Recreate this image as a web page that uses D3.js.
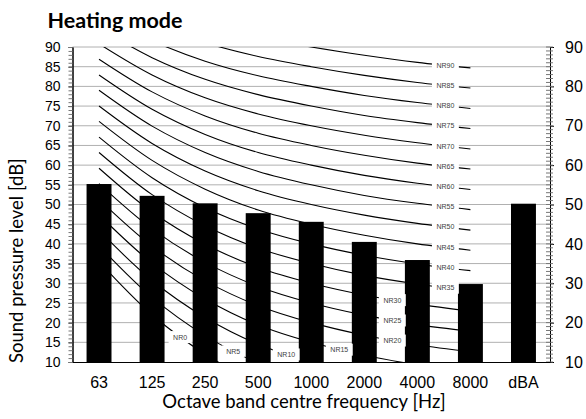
<!DOCTYPE html>
<html>
<head>
<meta charset="utf-8">
<script src="https://cdn.jsdelivr.net/npm/d3@7"></script>
<style>
  body { margin: 0; background: #fff; }
  svg { display: block; }
</style>
</head>
<body>
<div id="chart"></div>
<script>
"use strict"

let svgWidth = 586
let svgHeight = 419

let leftEdge = 72.5
let rightEdge = 550
let topEdge = 47
let bottomEdge = 362

// octave bands on the x axis
let categories = ["63", "125", "250", "500", "1000", "2000", "4000", "8000", "dBA"]

// measured sound pressure level for each band (dB)
let levels = [55.2, 52.2, 50.3, 47.8, 45.6, 40.5, 35.9, 29.8, 50.2]

// NR curve names and their levels at 63 ... 8000 Hz
let nrNames = [0, 5, 10, 15, 20, 25, 30, 35, 40, 45, 50, 55, 60, 65, 70, 75, 80, 85, 90]
let nrLevels = [
    [35.5, 22.0, 12.0, 4.8, 0.0, -3.5, -6.1, -8.0],
    [39.5, 26.4, 16.7, 9.7, 5.0, 1.6, -1.0, -2.9],
    [43.4, 30.7, 21.3, 14.5, 10.0, 6.7, 4.2, 2.3],
    [47.4, 35.1, 26.0, 19.4, 15.0, 11.7, 9.3, 7.5],
    [51.3, 39.4, 30.6, 24.3, 20.0, 16.8, 14.4, 12.6],
    [55.3, 43.8, 35.3, 29.2, 25.0, 21.9, 19.5, 17.8],
    [59.2, 48.1, 39.9, 34.0, 30.0, 27.0, 24.7, 22.9],
    [63.2, 52.5, 44.6, 38.9, 35.0, 32.0, 29.8, 28.1],
    [67.1, 56.8, 49.2, 43.8, 40.0, 37.1, 34.9, 33.2],
    [71.1, 61.2, 53.9, 48.6, 45.0, 42.2, 40.0, 38.4],
    [75.0, 65.5, 58.5, 53.5, 50.0, 47.3, 45.2, 43.5],
    [79.0, 69.9, 63.2, 58.4, 55.0, 52.3, 50.3, 48.7],
    [82.9, 74.2, 67.8, 63.2, 60.0, 57.4, 55.4, 53.8],
    [86.9, 78.6, 72.5, 68.1, 65.0, 62.5, 60.5, 59.0],
    [90.8, 82.9, 77.1, 73.0, 70.0, 67.6, 65.7, 64.1],
    [94.8, 87.3, 81.8, 77.9, 75.0, 72.6, 70.8, 69.3],
    [98.7, 91.6, 86.4, 82.7, 80.0, 77.7, 75.9, 74.4],
    [102.7, 96.0, 91.1, 87.6, 85.0, 82.8, 81.0, 79.6],
    [106.6, 100.3, 95.7, 92.5, 90.0, 87.9, 86.1, 84.7]
]

let svg = d3.select("#chart")
    .append("svg")
    .attr("width", svgWidth)
    .attr("height", svgHeight)

let xScale = d3.scaleBand()
    .domain(categories)
    .range([leftEdge, rightEdge])

let yScale = d3.scaleLinear()
    .domain([10, 90])
    .range([bottomEdge, topEdge])

function xMid(cat) {
    return xScale(cat) + xScale.bandwidth() / 2
}

svg.append("defs").append("clipPath")
    .attr("id", "plotClip")
    .append("rect")
    .attr("x", leftEdge)
    .attr("y", topEdge)
    .attr("width", rightEdge - leftEdge)
    .attr("height", bottomEdge - topEdge)

/* gridlines */
svg.selectAll("line.grid")
    .data(d3.range(15, 91, 5))
    .join("line")
    .classed("grid", true)
    .attr("x1", leftEdge)
    .attr("x2", rightEdge)
    .attr("y1", d => yScale(d))
    .attr("y2", d => yScale(d))
    .attr("stroke", "#b0b0b0")
    .attr("stroke-width", 1)

/* bars */
let barWidth = xScale.bandwidth() * 0.47
svg.selectAll("rect.bar")
    .data(levels)
    .join("rect")
    .classed("bar", true)
    .attr("x", (d, i) => xMid(categories[i]) - barWidth / 2)
    .attr("y", d => yScale(d))
    .attr("width", barWidth)
    .attr("height", d => yScale(10) - yScale(d))
    .attr("fill", "#000")

/* NR curves */
let nrBands = categories.slice(0, 8)
let curveLine = d3.line()
    .x((d, i) => xMid(nrBands[i]))
    .y(d => yScale(d))
    .curve(d3.curveCatmullRom)

let curves = svg.append("g")
    .attr("clip-path", "url(#plotClip)")
    .selectAll("path.nr")
    .data(nrLevels)
    .join("path")
    .classed("nr", true)
    .attr("d", curveLine)
    .attr("fill", "none")
    .attr("stroke", "#000")
    .attr("stroke-width", 1.1)

// which gap between bands each label sits in
function labelGap(nr) {
    if (nr <= 15) return 1 + nr / 5
    if (nr <= 30) return 5
    return 6
}

// point on a path at a given x
function pointAtX(path, x) {
    let total = path.getTotalLength()
    let lo = 0, hi = total
    for (let k = 0; k < 30; k++) {
        let mid = (lo + hi) / 2
        if (path.getPointAtLength(mid).x < x) lo = mid
        else hi = mid
    }
    return path.getPointAtLength((lo + hi) / 2)
}

let labels = svg.append("g")
curves.each(function (d, i) {
    let gap = labelGap(nrNames[i])
    let lx = (xMid(nrBands[gap]) + xMid(nrBands[gap + 1])) / 2 + 1.5
    let p = pointAtX(this, lx)
    let g = labels.append("g")
        .attr("transform", `translate(${lx},${p.y})`)
    let box = g.append("rect")
        .attr("fill", "#fff")
    let t = g.append("text")
        .attr("text-anchor", "middle")
        .attr("dy", "0.35em")
        .style("font-family", "'Liberation Sans', Arial, sans-serif")
        .style("font-size", "7px")
        .attr("fill", "#404040")
        .text("NR" + nrNames[i])
    let w = t.node().getComputedTextLength() + 9
    box.attr("x", -w / 2).attr("y", -6).attr("width", w).attr("height", 12)
})

/* axes */
let leftAxis = svg.append("g")
    .attr("transform", `translate(${leftEdge},0)`)
    .call(d3.axisLeft(yScale).tickValues(d3.range(10, 91, 5)).tickSize(4).tickSizeOuter(0).tickPadding(8))
leftAxis.selectAll("text")
    .style("font-family", "'Liberation Sans', Arial, sans-serif")
    .style("font-size", "14px")
    .attr("fill", "#000")

svg.append("g")
    .attr("transform", `translate(${leftEdge},0)`)
    .call(d3.axisLeft(yScale).tickValues(d3.range(10, 91, 1)).tickSize(4).tickSizeOuter(0).tickFormat(""))
    .selectAll("line").attr("stroke", "#777")

let rightAxis = svg.append("g")
    .attr("transform", `translate(${rightEdge},0)`)
    .call(d3.axisRight(yScale).tickValues(d3.range(10, 91, 10)).tickSize(4).tickSizeOuter(0).tickPadding(11))
rightAxis.selectAll("text")
    .style("font-family", "'Liberation Sans', Arial, sans-serif")
    .style("font-size", "16px")
    .attr("fill", "#000")

svg.selectAll("line.rminor")
    .data(d3.range(10, 91, 1))
    .join("line")
    .classed("rminor", true)
    .attr("x1", rightEdge - 4)
    .attr("x2", rightEdge + 3)
    .attr("y1", d => yScale(d))
    .attr("y2", d => yScale(d))
    .attr("stroke", "#777")

let bottomAxis = svg.append("g")
    .attr("transform", `translate(0,${bottomEdge})`)
    .call(d3.axisBottom(xScale).tickSize(0).tickSizeOuter(0).tickPadding(15))
bottomAxis.selectAll("text")
    .style("font-family", "'Liberation Sans', Arial, sans-serif")
    .style("font-size", "16px")
    .attr("fill", "#000")

/* titles */
svg.append("text")
    .attr("x", 115)
    .attr("y", 28)
    .attr("text-anchor", "middle")
    .style("font-family", "Lato, 'Open Sans', sans-serif")
    .style("font-weight", "bold")
    .style("font-size", "21.5px")
    .text("Heating mode")

svg.append("text")
    .attr("x", 304)
    .attr("y", 408)
    .attr("text-anchor", "middle")
    .style("font-family", "Lato, 'Open Sans', sans-serif")
    .style("font-size", "18.5px")
    .text("Octave band centre frequency [Hz]")

svg.append("text")
    .attr("transform", "translate(23,363) rotate(-90)")
    .attr("text-anchor", "start")
    .style("font-family", "Lato, 'Open Sans', sans-serif")
    .style("font-size", "18.5px")
    .text("Sound pressure level [dB]")
</script>
</body>
</html>
